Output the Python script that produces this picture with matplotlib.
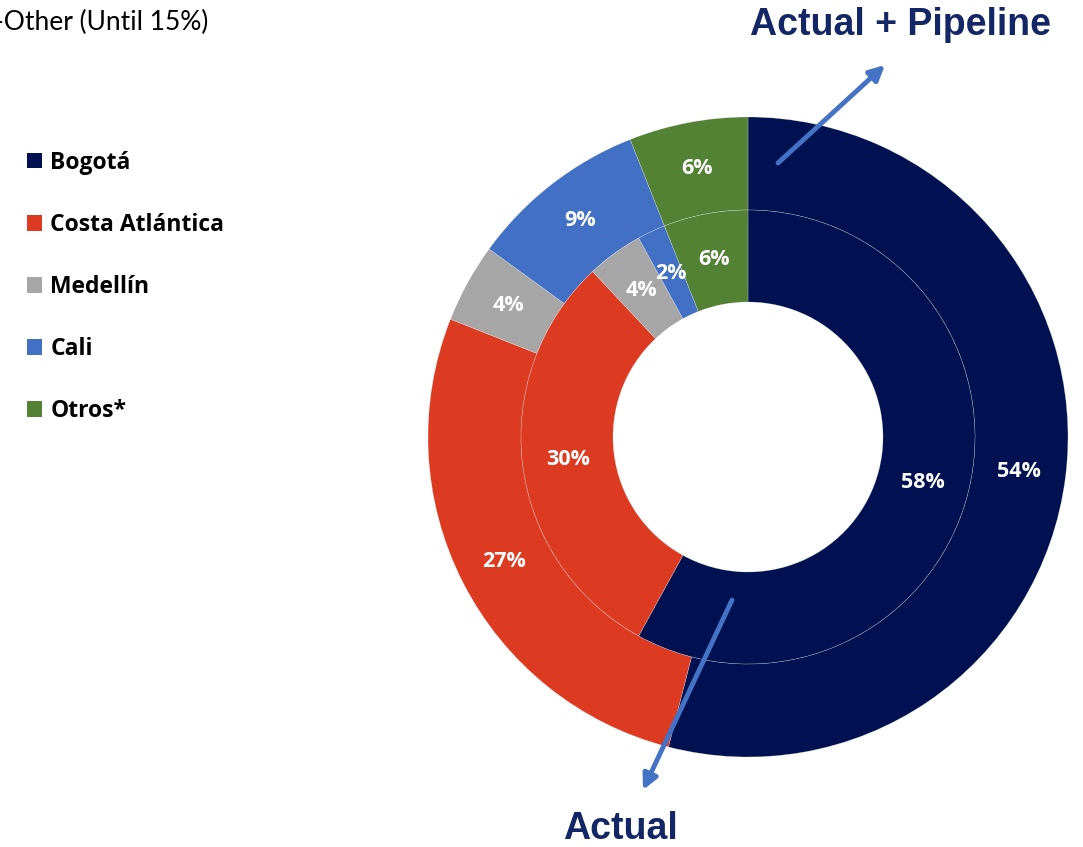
import matplotlib.pyplot as plt
from matplotlib.patches import Patch

W, H = 1083, 847

regions = ['Bogotá', 'Costa Atlántica', 'Medellín', 'Cali', 'Otros*']
colors = ['#001151', '#DD3A22', '#A6A6A6', '#4170C4', '#548235']
actual = [58, 30, 4, 2, 6]
actual_pipeline = [54, 27, 4, 9, 6]

NAVY = '#132766'
ARROW = '#4472C4'

fig = plt.figure(figsize=(W / 100, H / 100), dpi=100)
ax = fig.add_axes([0, 0, 1, 1])

cx, cy = 748, H - 437
r_out, r_mid, r_in = 320, 227, 135

lbl = dict(color='white', fontsize=15.5, fontweight='bold', family='Open Sans')

# outer ring = actual + pipeline
wedges, _, _ = ax.pie(actual_pipeline, colors=colors, radius=r_out, center=(cx, cy),
                      startangle=90, counterclock=False, autopct='%.0f%%',
                      pctdistance=(r_out + r_mid) / 2 / r_out, textprops=lbl,
                      wedgeprops=dict(width=r_out - r_mid, edgecolor='#ffffff80', linewidth=0.3))

# inner ring = actual
ax.pie(actual, colors=colors, radius=r_mid, center=(cx, cy),
       startangle=90, counterclock=False, autopct='%.0f%%',
       pctdistance=(r_mid + r_in) / 2 / r_mid, textprops=lbl,
       wedgeprops=dict(width=r_mid - r_in, edgecolor='#ffffff80', linewidth=0.3))

ax.set_xlim(0, W)
ax.set_ylim(0, H)
ax.set_aspect('auto')
ax.axis('off')

# arrows + labels
ax.annotate('', xy=(885, H - 65), xytext=(778, H - 163),
            arrowprops=dict(arrowstyle='-|>,head_length=0.9,head_width=0.45',
                            color=ARROW, lw=3.5, shrinkA=0, shrinkB=0))
ax.annotate('', xy=(643, H - 790), xytext=(732, H - 600),
            arrowprops=dict(arrowstyle='-|>,head_length=0.9,head_width=0.45',
                            color=ARROW, lw=3.5, shrinkA=0, shrinkB=0))
ax.text(900, H - 25, 'Actual + Pipeline', ha='center', va='center', fontsize=27,
        fontweight='bold', color=NAVY, family='Liberation Sans')
ax.text(620, H - 829, 'Actual', ha='center', va='center', fontsize=27,
        fontweight='bold', color=NAVY, family='Liberation Sans')

ax.text(-6, H - 22, '-Other (Until 15%)', ha='left', va='center', fontsize=19,
        color='black', family='Lato')

handles = [Patch(facecolor=c, edgecolor='none') for c in colors]
leg = ax.legend(handles, regions, loc='upper left', bbox_to_anchor=(6 / W, 1 - 130 / H),
                frameon=False, handlelength=0.68, handleheight=0.68, handletextpad=0.35,
                labelspacing=1.66, prop=dict(family='Open Sans', weight='bold', size=16.5))

fig.savefig('out.png', dpi=100)
